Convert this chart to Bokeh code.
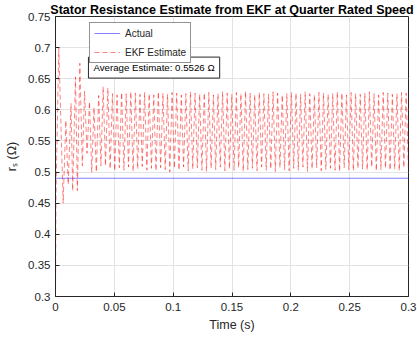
import numpy as np
from bokeh.plotting import figure
from bokeh.models import FixedTicker, Label, Legend, LegendItem, Range1d
from bokeh.embed import file_html
from bokeh.resources import INLINE

# ---- data ----
actual_rs = 0.49
avg_estimate = 0.5526

# start-up transient vertices of the EKF estimate
transient_t = [0.0, 0.0004, 0.0028, 0.0065, 0.0088, 0.0108, 0.0132, 0.0146,
               0.0170, 0.0186, 0.0207, 0.0228, 0.0247, 0.0268, 0.0289, 0.0308,
               0.0327, 0.0347, 0.0367, 0.0386, 0.0405, 0.0425]
transient_v = [0.30, 0.46, 0.70, 0.45, 0.583, 0.48, 0.61, 0.47,
               0.653, 0.47, 0.675, 0.51, 0.63, 0.53, 0.613, 0.50,
               0.604, 0.50, 0.623, 0.51, 0.637, 0.51]

# steady-state oscillation: one peak and one trough per cycle
cycle_period = 0.0039
first_peak_t = 0.0445
peaks = [0.635, 0.626, 0.624, 0.628, 0.626, 0.629, 0.627, 0.625, 0.628, 0.626,
         0.624, 0.629, 0.627, 0.625, 0.628, 0.627, 0.624, 0.626, 0.629, 0.627,
         0.625, 0.627, 0.628, 0.624, 0.626, 0.629, 0.627, 0.625, 0.628, 0.626,
         0.630, 0.627, 0.624, 0.628, 0.626, 0.625, 0.629, 0.627, 0.624, 0.626,
         0.628, 0.627, 0.625, 0.629, 0.626, 0.624, 0.628, 0.627, 0.625, 0.626,
         0.629, 0.627, 0.624, 0.628, 0.626, 0.625, 0.627, 0.629, 0.626, 0.624,
         0.628, 0.627, 0.625, 0.626, 0.628, 0.627]
troughs = [0.505, 0.502, 0.507, 0.503, 0.508, 0.501, 0.505, 0.509, 0.503, 0.506,
           0.502, 0.507, 0.504, 0.500, 0.506, 0.503, 0.508, 0.502, 0.505, 0.507,
           0.503, 0.501, 0.506, 0.504, 0.508, 0.502, 0.505, 0.503, 0.507, 0.501,
           0.504, 0.506, 0.502, 0.508, 0.503, 0.505, 0.501, 0.507, 0.504, 0.502,
           0.506, 0.503, 0.508, 0.501, 0.505, 0.507, 0.502, 0.504, 0.506, 0.503,
           0.501, 0.507, 0.504, 0.502, 0.506, 0.505, 0.503, 0.508, 0.502, 0.504,
           0.506, 0.503, 0.505, 0.502, 0.507, 0.504]

x_ticks = [0.0, 0.05, 0.1, 0.15, 0.2, 0.25, 0.3]
x_tick_labels = ["0", "0.05", "0.1", "0.15", "0.2", "0.25", "0.3"]
y_ticks = [0.3, 0.35, 0.4, 0.45, 0.5, 0.55, 0.6, 0.65, 0.7, 0.75]
y_tick_labels = ["0.3", "0.35", "0.4", "0.45", "0.5", "0.55", "0.6", "0.65", "0.7", "0.75"]

title_text = "Stator Resistance Estimate from EKF at Quarter Rated Speed"

# ---- build the estimate series ----
peak_t = first_peak_t + cycle_period * np.arange(len(peaks))
est_t = list(transient_t)
est_v = list(transient_v)
for pt, pv, tv in zip(peak_t, peaks, troughs):
    if pt > 0.3:
        break
    est_t.append(pt)
    est_v.append(pv)
    tt = pt + cycle_period / 2
    if tt <= 0.3:
        est_t.append(tt)
        est_v.append(tv)

FONT = "Liberation Sans"
DARK = "#262626"

p = figure(width=417, height=341, output_backend="svg", toolbar_location=None,
           x_range=Range1d(0, 0.3), y_range=Range1d(0.3, 0.75),
           min_border_left=55, min_border_right=9, min_border_top=16,
           min_border_bottom=45, title=title_text)

p.title.text_font = FONT
p.title.text_font_size = "12.5px"
p.title.text_font_style = "bold"
p.title.text_color = "black"
p.title.align = "center"
p.title.standoff = 0
p.title.offset = 0

p.background_fill_color = "white"
p.border_fill_color = "white"
p.outline_line_color = DARK
p.outline_line_width = 1
p.outline_line_alpha = 1

for ax in (p.xaxis[0], p.yaxis[0]):
    ax.axis_line_color = DARK
    ax.major_tick_line_color = DARK
    ax.major_tick_in = 4
    ax.major_tick_out = 0
    ax.minor_tick_line_color = None
    ax.major_label_text_font = FONT
    ax.major_label_text_font_size = "11.5px"
    ax.major_label_text_color = DARK
    ax.axis_label_text_font = FONT
    ax.axis_label_text_font_size = "12.5px"
    ax.axis_label_text_font_style = "normal"
    ax.axis_label_text_color = DARK

p.xaxis.ticker = FixedTicker(ticks=x_ticks)
p.yaxis.ticker = FixedTicker(ticks=y_ticks)
p.xaxis.major_label_overrides = dict(zip(x_ticks, x_tick_labels))
p.yaxis.major_label_overrides = dict(zip(y_ticks, y_tick_labels))
p.xaxis.major_label_standoff = 6
p.yaxis.major_label_standoff = 5
p.xaxis.axis_label = "Time (s)"
p.yaxis.axis_label = "r\u209b (\u03a9)"
p.xaxis.axis_label_standoff = 4
p.yaxis.axis_label_standoff = 6

p.grid.grid_line_color = "#e3e3e3"
p.grid.grid_line_width = 1

r_act = p.line([0.0, 0.3], [actual_rs, actual_rs], line_color="#0000ff",
               line_alpha=0.5, line_width=1)
r_est = p.line(est_t, est_v, line_color="#ff0000", line_alpha=0.65,
               line_width=0.75, line_dash="5 3")

legend = Legend(items=[LegendItem(label="Actual", renderers=[r_act]),
                       LegendItem(label="EKF Estimate", renderers=[r_est])],
                location=(34, 233))
legend.label_text_font = FONT
legend.label_text_font_size = "10px"
legend.label_text_color = DARK
legend.border_line_color = DARK
legend.border_line_width = 1
legend.background_fill_color = "white"
legend.background_fill_alpha = 1
legend.glyph_width = 26
legend.glyph_height = 12
legend.label_height = 12
legend.spacing = 7
legend.padding = 4
legend.margin = 0
legend.label_standoff = 5
p.add_layout(legend)

ann = Label(x=0.028, y=0.651, text="Average Estimate: %.4f \u03a9" % avg_estimate,
            text_font=FONT, text_font_size="9.7px", text_color="black",
            anchor="bottom_left", padding=5,
            border_line_color=DARK, border_line_width=1,
            background_fill_color="white", background_fill_alpha=1)
p.add_layout(ann)

open("out.html", "w").write(file_html(p, INLINE))
